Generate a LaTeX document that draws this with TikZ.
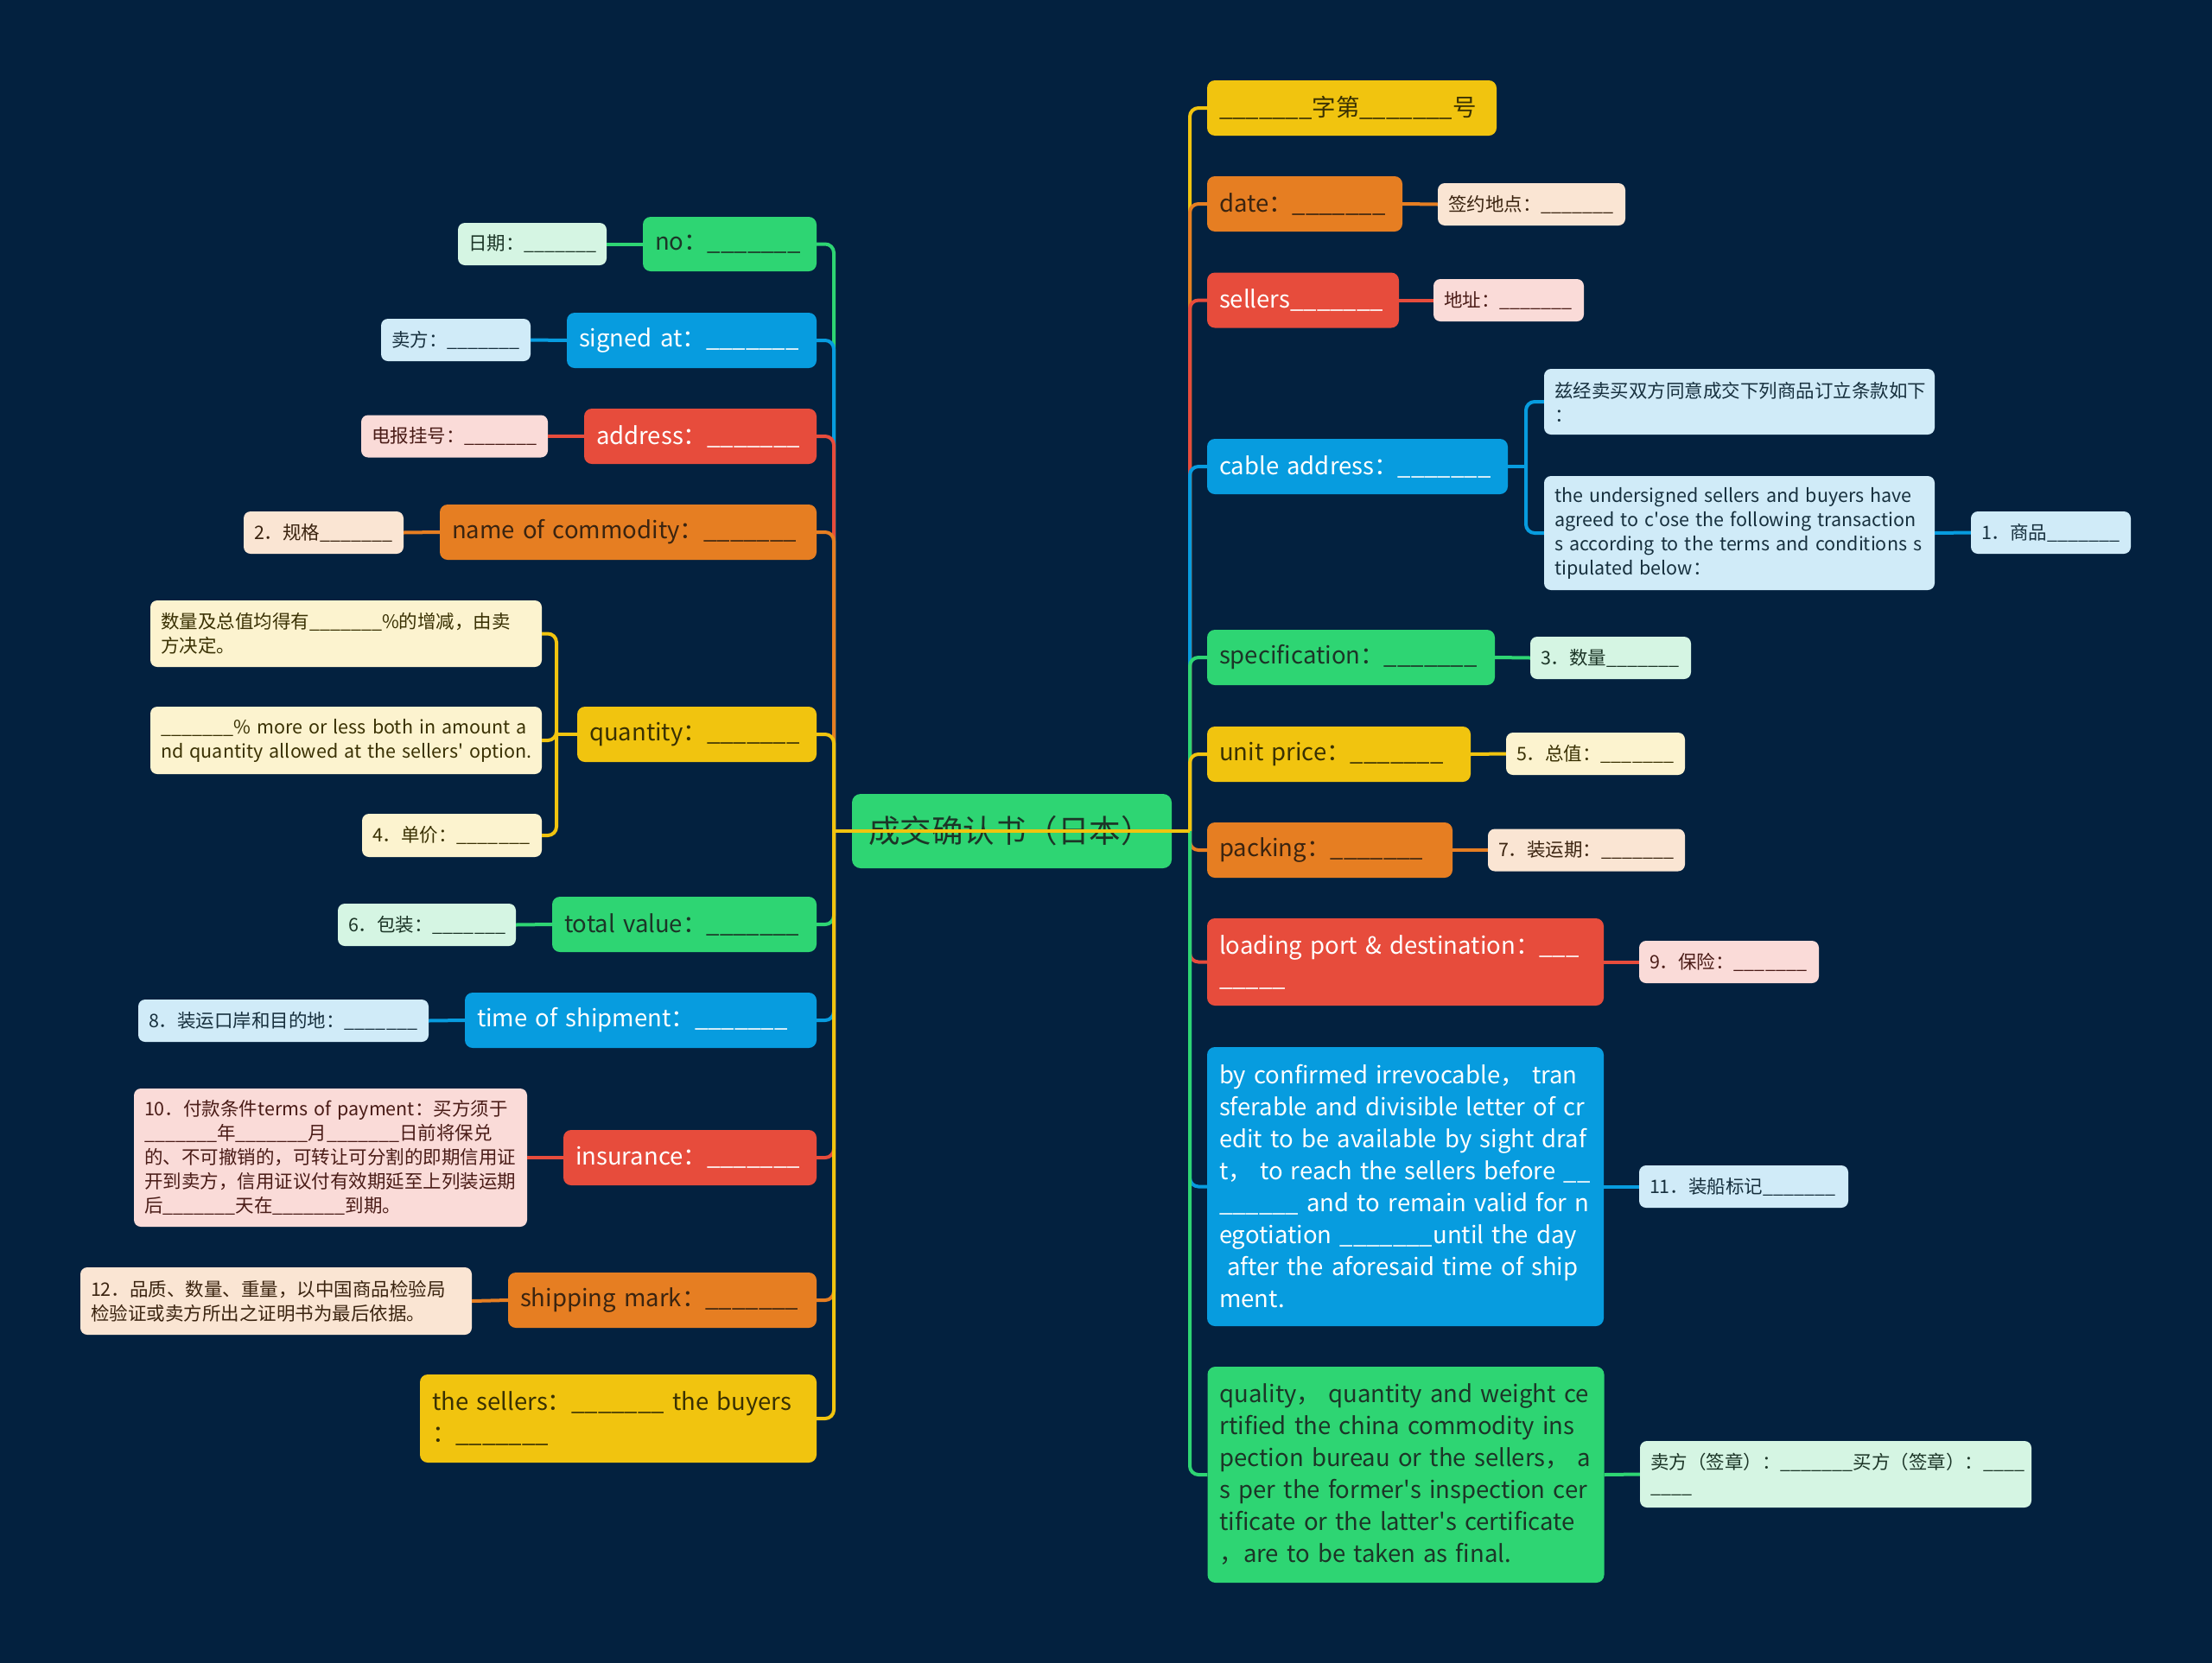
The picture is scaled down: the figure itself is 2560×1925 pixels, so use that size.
\documentclass[tikz,border=0pt]{standalone}
\usepackage{fontspec}
\setmainfont{Noto Sans CJK SC}
\usepackage{xcolor}
\definecolor{bgnavy}{HTML}{03213F}
\definecolor{mgreen}{HTML}{2ED573}
\definecolor{mblue}{HTML}{079CDF}
\definecolor{mred}{HTML}{E74C3C}
\definecolor{morange}{HTML}{E67E22}
\definecolor{myellow}{HTML}{F1C40F}
\definecolor{lgreen}{HTML}{D5F5E3}
\definecolor{lblue}{HTML}{D0EBF8}
\definecolor{lred}{HTML}{FADBD8}
\definecolor{lorange}{HTML}{FAE5D3}
\definecolor{lyellow}{HTML}{FCF3CF}
\definecolor{darkgreen}{HTML}{1C3527}
\definecolor{darkbrown}{HTML}{3B2410}
\definecolor{darkolive}{HTML}{3A3103}
\definecolor{darkred}{HTML}{4A1C17}
\definecolor{darkblue}{HTML}{17303E}
\newcommand{\fillblank}{\_\_\_\_\_\_\_}
\newcommand{\apos}{\textquotesingle}

\tikzset{
  mainbox/.style={rounded corners=9pt,inner xsep=14pt,inner ysep=0pt,align=left,minimum height=64pt,font=\fontsize{27.5}{37}\selectfont,execute at begin node={\hyphenpenalty=10000}},
  subbox/.style={rounded corners=8pt,inner xsep=12pt,inner ysep=0pt,align=left,minimum height=49pt,font=\fontsize{21.5}{28}\selectfont,execute at begin node={\hyphenpenalty=10000}},
  rootbox/.style={rounded corners=10pt,inner xsep=19pt,inner ysep=0pt,align=left,minimum height=86pt,fill=mgreen,text=darkgreen,font=\fontsize{36.5}{42}\selectfont},
  link/.style={line width=4pt,rounded corners=10pt}
}

\begin{document}
\begin{tikzpicture}[x=1pt,y=-1pt]
\fill[bgnavy] (0,0) rectangle (2560,1925);
\useasboundingbox (0,0) rectangle (2560,1925);

\node[rootbox,text width=332pt] (root) at (1171,962) {成交确认书（日本）};
\coordinate (lspine) at (965,962);
\coordinate (rspine) at (1377,962);

% left side main topics
\node[mainbox,fill=mgreen,text=darkgreen,text width=173pt,minimum height=63pt] (no) at (844.5,282.5) {no：\fillblank};
\node[mainbox,fill=mblue,text=white,text width=261pt] (signedat) at (800.5,394) {signed at：\fillblank};
\node[mainbox,fill=mred,text=white,text width=241pt] (address) at (810.5,505) {address：\fillblank};
\node[mainbox,fill=morange,text=darkbrown,text width=408pt] (commodity) at (727,616) {name of commodity：\fillblank};
\node[mainbox,fill=myellow,text=darkolive,text width=249pt] (quantity) at (806.5,850) {quantity：\fillblank};
\node[mainbox,fill=mgreen,text=darkgreen,text width=278pt] (totalvalue) at (792,1070) {total value：\fillblank};
\node[mainbox,fill=mblue,text=white,text width=379pt] (shiptime) at (741.5,1181) {time of shipment：\fillblank};
\node[mainbox,fill=mred,text=white,text width=265pt] (insurance) at (798.5,1340) {insurance：\fillblank};
\node[mainbox,fill=morange,text=darkbrown,text width=329pt] (shipmark) at (766.5,1505) {shipping mark：\fillblank};
\node[mainbox,fill=myellow,text=darkolive,text width=431pt,minimum height=102pt] (signers) at (715.5,1642) {the sellers：\fillblank{} the buyers\\：\fillblank};

% right side main topics
\node[mainbox,fill=myellow,text=darkolive,text width=307pt] (serial) at (1564.5,125) {\fillblank 字第\fillblank 号};
\node[mainbox,fill=morange,text=darkbrown,text width=198pt] (date) at (1510,236) {date：\fillblank};
\node[mainbox,fill=mred,text=white,text width=194pt] (sellers) at (1508,347.5) {sellers\fillblank};
\node[mainbox,fill=mblue,text=white,text width=320pt] (cable) at (1571,540) {cable address：\fillblank};
\node[mainbox,fill=mgreen,text=darkgreen,text width=305pt] (spec) at (1563.5,761) {specification：\fillblank};
\node[mainbox,fill=myellow,text=darkolive,text width=277pt] (unitprice) at (1549.5,873) {unit price：\fillblank};
\node[mainbox,fill=morange,text=darkbrown,text width=256pt] (packing) at (1539,984) {packing：\fillblank};
\node[mainbox,fill=mred,text=white,text width=431pt,minimum height=101pt] (port) at (1626.5,1113.5) {loading port \& destination：\_\_\_\\\_\_\_\_\_};
\node[mainbox,fill=mblue,text=white,text width=431pt,minimum height=323pt] (payment) at (1626.5,1373.5) {by confirmed irrevocable， tran\\sferable and divisible letter of cr\\edit to be available by sight draf\\t， to reach the sellers before \_\_\\\_\_\_\_\_\_ and to remain valid for n\\egotiation \fillblank until the day\\\ after the aforesaid time of ship\\ment.};
\node[mainbox,fill=mgreen,text=darkgreen,text width=431pt,minimum height=250pt] (quality) at (1627,1707) {quality， quantity and weight ce\\rtified the china commodity ins\\pection bureau or the sellers， a\\s per the former\apos s inspection cer\\tificate or the latter\apos s certificate\\，are to be taken as final.};

% left side details
\node[subbox,fill=lgreen,text=darkgreen,text width=148pt] (riqi) at (616,282.5) {日期：\fillblank};
\node[subbox,fill=lblue,text=darkblue,text width=149pt] (maifang) at (527.5,393.5) {卖方：\fillblank};
\node[subbox,fill=lred,text=darkred,text width=192pt] (dianbao) at (526,505) {电报挂号：\fillblank};
\node[subbox,fill=lorange,text=darkbrown,text width=161pt] (guige) at (374.5,616.5) {2．规格\fillblank};
\node[subbox,fill=lyellow,text=darkolive,text width=429pt,minimum height=77pt] (zengjian) at (400.5,733.5) {数量及总值均得有\fillblank\%的增减，由卖\\方决定。};
\node[subbox,fill=lyellow,text=darkolive,text width=429pt,minimum height=78pt] (moreless) at (400.5,857) {\fillblank\%~more~or~less~both~in~amount~a\\nd~quantity~allowed~at~the~sellers\apos{}~option.};
\node[subbox,fill=lyellow,text=darkolive,text width=184pt,minimum height=50pt] (danjia) at (523,967) {4．单价：\fillblank};
\node[subbox,fill=lgreen,text=darkgreen,text width=182pt] (baozhuang) at (494,1070.5) {6．包装：\fillblank};
\node[subbox,fill=lblue,text=darkblue,text width=312pt] (kouan) at (328,1181.5) {8．装运口岸和目的地：\fillblank};
\node[subbox,fill=lred,text=darkred,text width=431pt,minimum height=160pt] (fukuan) at (382.5,1340) {10．付款条件terms of payment：买方须于\\\fillblank 年\fillblank 月\fillblank 日前将保兑\\的、不可撤销的，可转让可分割的即期信用证\\开到卖方，信用证议付有效期延至上列装运期\\后\fillblank 天在\fillblank 到期。};
\node[subbox,fill=lorange,text=darkbrown,text width=429pt,minimum height=78pt] (pinzhi) at (319.5,1506) {12．品质、数量、重量，以中国商品检验局\\检验证或卖方所出之证明书为最后依据。};

% right side details
\node[subbox,fill=lorange,text=darkbrown,text width=193pt] (didian) at (1772.5,236.5) {签约地点：\fillblank};
\node[subbox,fill=lred,text=darkred,text width=150pt] (dizhi) at (1746,347.5) {地址：\fillblank};
\node[subbox,fill=lblue,text=darkblue,text width=428pt,minimum height=76pt] (zijing) at (2013,465) {兹经卖买双方同意成交下列商品订立条款如下\\：};
\node[subbox,fill=lblue,text=darkblue,text width=428pt,minimum height=132pt] (undersigned) at (2013,617) {the undersigned sellers and buyers have\\agreed to c\apos ose the following transaction\\s according to the terms and conditions s\\tipulated below：};
\node[subbox,fill=lblue,text=darkblue,text width=161pt] (shangpin) at (2373.5,616.5) {1．商品\fillblank};
\node[subbox,fill=lgreen,text=darkgreen,text width=162pt] (shuliang) at (1864,761.5) {3．数量\fillblank};
\node[subbox,fill=lyellow,text=darkolive,text width=183pt] (zongzhi) at (1846.5,872.5) {5．总值：\fillblank};
\node[subbox,fill=lorange,text=darkbrown,text width=204pt] (zhuangyun) at (1836,984) {7．装运期：\fillblank};
\node[subbox,fill=lred,text=darkred,text width=184pt] (baoxian) at (2001,1113.5) {9．保险：\fillblank};
\node[subbox,fill=lblue,text=darkblue,text width=218pt] (biaoji) at (2018,1373.5) {11．装船标记\fillblank};
\node[subbox,fill=lgreen,text=darkgreen,text width=429pt,minimum height=77pt] (qianzhang) at (2124.5,1706.5) {卖方（签章）：\fillblank 买方（签章）：\_\_\_\_\\\_\_\_\_};

% right branches
\draw[link,mgreen] (root.center) -- (rspine);
\draw[link,myellow] (rspine) |- (serial.west);
\draw[link,morange] (rspine) |- (date.west);
\draw[link,mred] (rspine) |- (sellers.west);
\draw[link,mblue] (rspine) |- (cable.west);
\draw[link,mgreen] (rspine) |- (spec.west);
\draw[link,myellow] (rspine) |- (unitprice.west);
\draw[link,morange] (rspine) |- (packing.west);
\draw[link,mred] (rspine) |- (port.west);
\draw[link,mblue] (rspine) |- (payment.west);
\draw[link,mgreen] (rspine) |- (quality.west);

% left branches
\draw[link,mgreen] (lspine) |- (no.east);
\draw[link,mblue] (lspine) |- (signedat.east);
\draw[link,mred] (lspine) |- (address.east);
\draw[link,morange] (lspine) |- (commodity.east);
\draw[link,myellow] (lspine) |- (quantity.east);
\draw[link,mgreen] (lspine) |- (totalvalue.east);
\draw[link,mblue] (lspine) |- (shiptime.east);
\draw[link,mred] (lspine) |- (insurance.east);
\draw[link,morange] (lspine) |- (shipmark.east);
\draw[link,myellow] (lspine) |- (signers.east);
\draw[link,myellow] (lspine) -- (rspine);

% details
\draw[link,mgreen] (no.west) -- (riqi.east);
\draw[link,mblue] (signedat.west) -- (maifang.east);
\draw[link,mred] (address.west) -- (dianbao.east);
\draw[link,morange] (commodity.west) -- (guige.east);
\coordinate (qfork) at (644,850);
\draw[link,myellow] (quantity.west) -- (qfork);
\draw[link,myellow] (qfork) |- (zengjian.east);
\draw[link,myellow] (qfork) |- (moreless.east);
\draw[link,myellow] (qfork) |- (danjia.east);
\draw[link,mgreen] (totalvalue.west) -- (baozhuang.east);
\draw[link,mblue] (shiptime.west) -- (kouan.east);
\draw[link,mred] (insurance.west) -- (fukuan.east);
\draw[link,morange] (shipmark.west) -- (pinzhi.east);

\draw[link,morange] (date.east) -- (didian.west);
\draw[link,mred] (sellers.east) -- (dizhi.west);
\coordinate (cfork) at (1766,540);
\draw[link,mblue] (cable.east) -- (cfork);
\draw[link,mblue] (cfork) |- (zijing.west);
\draw[link,mblue] (cfork) |- (undersigned.west);
\draw[link,mblue] (undersigned.east) -- (shangpin.west);
\draw[link,mgreen] (spec.east) -- (shuliang.west);
\draw[link,myellow] (unitprice.east) -- (zongzhi.west);
\draw[link,morange] (packing.east) -- (zhuangyun.west);
\draw[link,mred] (port.east) -- (baoxian.west);
\draw[link,mblue] (payment.east) -- (biaoji.west);
\draw[link,mgreen] (quality.east) -- (qianzhang.west);
\end{tikzpicture}
\end{document}
